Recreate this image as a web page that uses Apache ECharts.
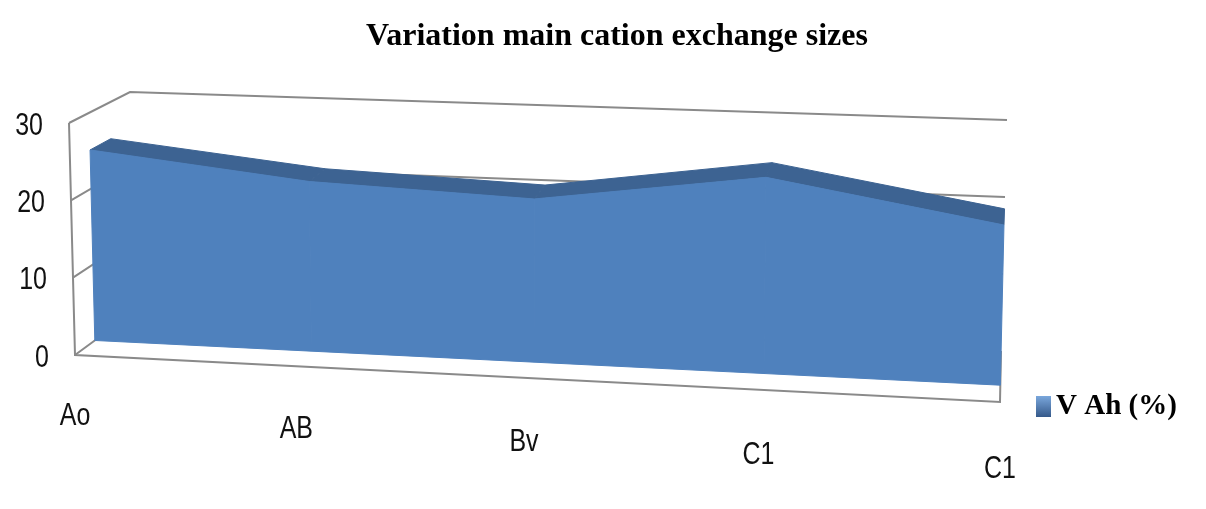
<!DOCTYPE html>
<html>
<head>
<meta charset="utf-8">
<script src="https://cdn.jsdelivr.net/npm/echarts@6/dist/echarts.min.js"></script>
<style>
  html, body { margin: 0; padding: 0; background: #fff; }
  #chart { width: 1206px; height: 509px; }
</style>
</head>
<body>
<div id="chart"></div>
<script>
// ---- data ----
const chartTitle = 'Variation main cation exchange sizes';
const seriesName = 'V Ah (%)';
const horizons = ['Ao', 'AB', 'Bv', 'C1', 'C1'];
const vAh = [25.1, 22.2, 21.2, 25.3, 20.5];
const valueTicks = [0, 10, 20, 30];
const valueTickLabels = ['0', '10', '20', '30'];

// ---- 3D box projection ----
// Screen corners of the plot box (Front/Back, Bottom/Top, Left/Right)
const box = {
  FBL: [75, 355], FTL: [69, 123], BBL: [135, 311], BTL: [130, 92],
  FBR: [1000, 402], FTR: [1005, 166], BBR: [1001, 351], BTR: [1007, 120]
};
const persp = 1.06;               // foreshortening along the category direction
const slabFront = 0.33, slabBack = 0.67;   // depth occupied by the area slab

function lerp(a, b, t) { return [a[0] + (b[0] - a[0]) * t, a[1] + (b[1] - a[1]) * t]; }
function project(u, v, w) {
  const uu = u / (u + persp * (1 - u));
  const fb = lerp(box.FBL, box.FBR, uu), ft = lerp(box.FTL, box.FTR, uu);
  const bb = lerp(box.BBL, box.BBR, uu), bt = lerp(box.BTL, box.BTR, uu);
  return lerp(lerp(fb, ft, v), lerp(bb, bt, v), w);
}
// flat cartesian pixel -> unit (u, v) inside the grid
function toUnit(pt, cs) {
  return [(pt[0] - cs.x) / cs.width, (cs.y + cs.height - pt[1]) / cs.height];
}

const lineStyle = { stroke: '#8a8a8a', lineWidth: 2, fill: null };
const labelFont = { fontFamily: '"Liberation Sans", Arial, sans-serif', fontSize: 32, fill: '#111' };
const labelScaleX = 0.78;

// walls: value gridlines on side and back walls, axis lines, value labels
function renderWalls(params, api) {
  const cs = params.coordSys;
  const t = api.value(1);
  const v = toUnit(api.coord([0, t]), cs)[1];
  const a = project(0, v, 0), b = project(0, v, 1), c = project(1, v, 1);
  const children = [
    { type: 'polyline', shape: { points: [a, b, c] }, style: lineStyle },
    {
      type: 'text', x: a[0] - 26, y: a[1] + 3, scaleX: labelScaleX,
      style: Object.assign({ text: valueTickLabels[params.dataIndex], align: 'right', verticalAlign: 'middle' }, labelFont)
    }
  ];
  if (params.dataIndex === 0) {
    const top = toUnit(api.coord([0, valueTicks[valueTicks.length - 1]]), cs)[1];
    children.push(
      { type: 'polyline', shape: { points: [project(0, top, 0), project(0, v, 0), project(1, v, 0), project(1, v, 1)] }, style: lineStyle }
    );
  }
  return { type: 'group', children: children };
}

// area slab: top face and front face per segment, category label per point
function renderSlab(params, api) {
  const cs = params.coordSys;
  const i = params.dataIndex;
  const p0 = toUnit(api.coord([i, api.value(1)]), cs);
  const b0 = toUnit(api.coord([i, 0]), cs);
  const children = [];
  const lp = project(b0[0], b0[1], 0);
  children.push({
    type: 'text', x: lp[0], y: lp[1] + 61 + 6 * b0[0], scaleX: labelScaleX,
    style: Object.assign({ text: horizons[i], align: 'center', verticalAlign: 'middle' }, labelFont)
  });
  if (i < horizons.length - 1) {
    const p1 = toUnit(api.coord([i + 1, vAh[i + 1]]), cs);
    const b1 = toUnit(api.coord([i + 1, 0]), cs);
    children.push({
      type: 'polygon', z2: 1,
      shape: { points: [project(p0[0], p0[1], slabFront), project(p1[0], p1[1], slabFront),
                        project(p1[0], p1[1], slabBack), project(p0[0], p0[1], slabBack)] },
      style: { fill: '#3d6392', stroke: '#3d6392', lineWidth: 1 }
    });
    children.push({
      type: 'polygon', z2: 2,
      shape: { points: [project(b0[0], b0[1], slabFront), project(b1[0], b1[1], slabFront),
                        project(p1[0], p1[1], slabFront), project(p0[0], p0[1], slabFront)] },
      style: { fill: '#4f81bd', stroke: '#4f81bd', lineWidth: 1 }
    });
  }
  return { type: 'group', children: children };
}

const chart = echarts.init(document.getElementById('chart'), null, { renderer: 'canvas' });
chart.setOption({
  animation: false,
  backgroundColor: '#ffffff',
  title: {
    text: chartTitle, left: 612, top: 16, textAlign: 'center',
    textStyle: { fontFamily: '"Liberation Serif", "Times New Roman", serif', fontWeight: 'bold', fontSize: 32, color: '#000' }
  },
  legend: {
    data: [{
      name: seriesName, icon: 'rect',
      itemStyle: { color: new echarts.graphic.LinearGradient(0, 0, 0, 1, [
        { offset: 0, color: '#7aa7dc' }, { offset: 1, color: '#35598a' }]) }
    }],
    left: 1031, top: 387, itemWidth: 15, itemHeight: 21, selectedMode: false,
    textStyle: { fontFamily: '"Liberation Serif", "Times New Roman", serif', fontWeight: 'bold', fontSize: 29, color: '#000' }
  },
  grid: { left: 75, right: 206, top: 123, bottom: 154 },
  xAxis: { type: 'category', data: horizons, boundaryGap: false, show: false },
  yAxis: { type: 'value', min: 0, max: 30, interval: 10, show: false },
  series: [
    {
      name: 'walls', type: 'custom', coordinateSystem: 'cartesian2d', silent: true, z: 1,
      renderItem: renderWalls,
      data: valueTicks.map(t => [0, t])
    },
    {
      name: seriesName, type: 'custom', coordinateSystem: 'cartesian2d', silent: true, z: 2,
      itemStyle: { color: '#4f81bd' },
      renderItem: renderSlab,
      data: vAh.map((v, i) => [i, v])
    }
  ]
});
</script>
</body>
</html>
